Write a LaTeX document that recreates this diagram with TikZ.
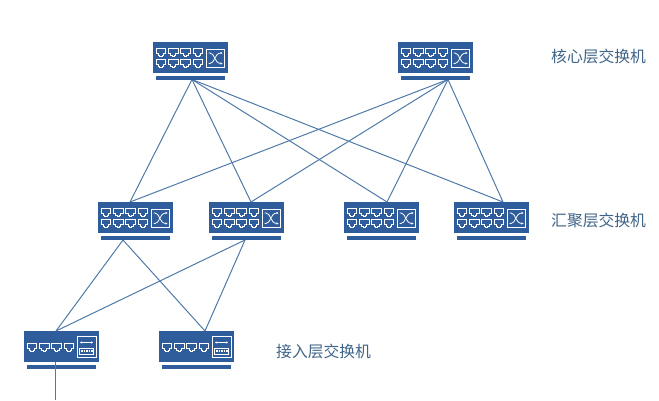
\documentclass[tikz,border=0pt]{standalone}
\usepackage{fontspec}
\setmainfont{Noto Sans CJK SC}
\usetikzlibrary{arrows.meta}
\definecolor{sw}{HTML}{2F5C9A}
\definecolor{lnk}{HTML}{4F7AA8}
\definecolor{lab}{HTML}{3F6488}
\tikzset{
 x=1pt,y=-1pt,
 swbody/.style={fill=sw,draw=none,minimum width=75pt,minimum height=31pt,inner sep=0pt,rectangle},
 swbar/.style={fill=sw,draw=none,minimum width=69pt,minimum height=3.6pt,inner sep=0pt,rectangle},
 link/.style={draw=lnk,line width=1pt},
 lbl/.style={text=lab,font=\fontsize{15.8}{16}\selectfont,inner sep=0pt,anchor=west},
 wire/.style={draw=white,line width=1pt,line join=miter},
 thinwire/.style={draw=white,line width=0.8pt},
 tip/.style={-{Stealth[length=2.2pt,width=2.4pt]}},
 port/.pic={\draw[wire,fill=none] (-4.9,-4.2)--(4.9,-4.2)--(4.9,0.6)--(2.6,0.6)--(2.6,2.6)--(1.3,2.6)--(1.3,4)--(-1.3,4)--(-1.3,2.6)--(-2.6,2.6)--(-2.6,0.6)--(-4.9,0.6)--cycle;},
}
\newcommand{\coresw}[3]{%
 \node[swbody,anchor=north west] (#1) at (#2,#3) {};
 \node[swbar,anchor=north] (#1b) at ([yshift=-2.8pt]#1.south) {};
 \begin{scope}[shift={(#2,#3)}]
  \foreach \px in {8,20.3,32.6,45}{\pic at (\px,10.5) {port}; \pic at (\px,21.5) {port};}
  \draw[wire] (53,7) rectangle (71.5,25.5);
  \draw[thinwire,tip] (55.5,11) -- (57,11) .. controls (62,11) and (61,21.5) .. (69.5,21.5);
  \draw[thinwire,tip] (55.5,21.5) -- (57,21.5) .. controls (62,21.5) and (61,11) .. (69.5,11);
 \end{scope}}
\newcommand{\accsw}[3]{%
 \node[swbody,anchor=north west] (#1) at (#2,#3) {};
 \node[swbar,anchor=north] (#1b) at ([yshift=-2.8pt]#1.south) {};
 \begin{scope}[shift={(#2,#3)}]
  \foreach \px in {8,20.3,32.6,45}{\pic at (\px,16.5) {port};}
  \draw[wire] (53,5) rectangle (72,26);
  \draw[thinwire,tip] (62.5,11.5) -- (69,11.5);
  \draw[thinwire,tip] (62.5,11.5) -- (56,11.5);
  \draw[thinwire,line width=0.7pt] (55.5,17) rectangle (69.5,23);
  \draw[draw=white,line width=1.8pt,dash pattern=on 1.6pt off 1pt] (57,20) -- (68.5,20);
 \end{scope}}
\begin{document}
\begin{tikzpicture}
\useasboundingbox (0,0) rectangle (659,400);
\coordinate (c1d) at (192,79.5);
\coordinate (c2d) at (448,79.5);
\coordinate (a1u) at (130,202);
\coordinate (a2u) at (251,202);
\coordinate (a3u) at (387,202);
\coordinate (a4u) at (503,202);
\coordinate (a1d) at (123,240);
\coordinate (a2d) at (245,240);
\coordinate (e1u) at (56,331);
\coordinate (e2u) at (205,331);
\coordinate (e1d) at (55,362);
\coordinate (e1end) at (55,400);
\foreach \f in {c1d,c2d}\foreach \t in {a1u,a2u,a3u,a4u}{\draw[link] (\f) -- (\t);}
\foreach \f in {a1d,a2d}\foreach \t in {e1u,e2u}{\draw[link] (\f) -- (\t);}
\coresw{c1}{153}{42}
\coresw{c2}{398}{42}
\coresw{a1}{98}{202}
\coresw{a2}{209}{202}
\coresw{a3}{344}{202}
\coresw{a4}{454}{202}
\accsw{e1}{24}{331}
\accsw{e2}{159}{331}
\draw[link] (e1d) -- (e1end);
\node[lbl] (t1) at (551,56) {核心层交换机};
\node[lbl] (t2) at (551,220) {汇聚层交换机};
\node[lbl] (t3) at (276,351) {接入层交换机};
\end{tikzpicture}
\end{document}
